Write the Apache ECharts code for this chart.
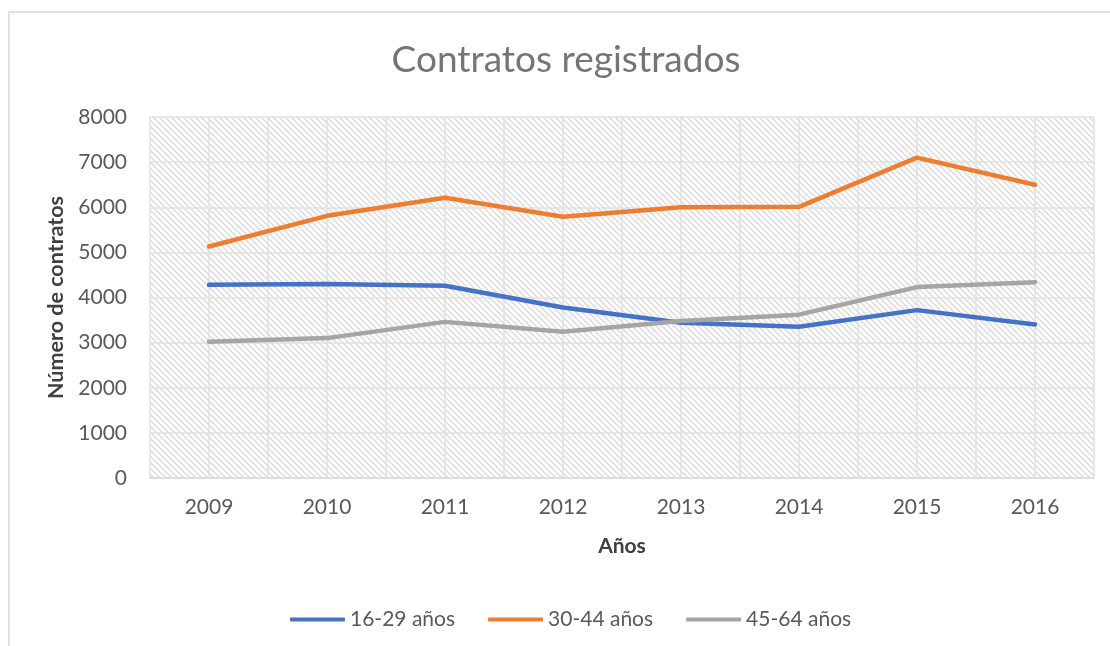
<!DOCTYPE html>
<html>
<head>
<meta charset="utf-8">
<script src="https://cdn.jsdelivr.net/npm/echarts@6/dist/echarts.min.js"></script>
<style>
html,body{margin:0;padding:0;background:#fff;}
#chart{width:1110px;height:646px;}
</style>
</head>
<body>
<div id="chart"></div>
<script>
const years = ['2009','2010','2011','2012','2013','2014','2015','2016'];
const s16_29 = [4280, 4300, 4260, 3780, 3440, 3350, 3720, 3400];
const s30_44 = [5130, 5810, 6210, 5790, 6000, 6010, 7100, 6500];
const s45_64 = [3020, 3100, 3460, 3240, 3480, 3620, 4230, 4340];
const seriesNames = ['16-29 años', '30-44 años', '45-64 años'];
const yTicks = [0, 1000, 2000, 3000, 4000, 5000, 6000, 7000, 8000];

// hatch pattern for plot background
const tile = document.createElement('canvas');
const S = 6;
tile.width = S; tile.height = S;
const tc = tile.getContext('2d');
tc.fillStyle = '#ffffff';
tc.fillRect(0, 0, S, S);
tc.strokeStyle = '#dadada';
tc.lineWidth = 1.4;
tc.beginPath();
tc.moveTo(-1, -1); tc.lineTo(S + 1, S + 1);
tc.moveTo(-1, S - 1); tc.lineTo(1, S + 1);
tc.moveTo(S - 1, -1); tc.lineTo(S + 1, 1);
tc.stroke();

const FONT = 'Lato';
const chart = echarts.init(document.getElementById('chart'), null, {renderer: 'canvas'});
const colors = ['#4472C4', '#ED7D31', '#A5A5A5'];
const data = [s16_29, s30_44, s45_64];

chart.setOption({
  animation: false,
  color: colors,
  graphic: [
    {type: 'rect', shape: {x: 9, y: 12, width: 1300, height: 800}, style: {fill: 'none', stroke: '#d9d9d9', lineWidth: 1.5}, silent: true},
    {type: 'text', x: 566, y: 60, style: {text: 'Contratos registrados', font: '400 37px Lato', fill: '#757575', textAlign: 'center', textVerticalAlign: 'middle'}}
  ],
  grid: {
    left: 150, right: 16, top: 117, bottom: 168,
    show: true,
    backgroundColor: {image: tile, repeat: 'repeat'},
    borderWidth: 0
  },
  legend: {
    data: seriesNames,
    left: 285, top: 604,
    itemWidth: 55, itemHeight: 4, itemGap: 33,
    icon: 'roundRect',
    textStyle: {fontFamily: FONT, fontSize: 21, color: '#595959'}
  },
  xAxis: [
    {
      type: 'category',
      data: years,
      boundaryGap: true,
      name: 'Años',
      nameLocation: 'middle',
      nameGap: 58,
      nameTextStyle: {fontFamily: FONT, fontSize: 21, fontWeight: 'bold', color: '#404040'},
      axisLine: {show: true, lineStyle: {color: '#d9d9d9', width: 1.5}},
      axisTick: {show: false},
      splitLine: {show: false},
      axisLabel: {fontFamily: FONT, fontSize: 21, color: '#595959', margin: 19}
    },
    {
      type: 'value',
      min: 0, max: 16, interval: 1,
      show: true,
      position: 'bottom',
      axisLine: {show: false},
      axisTick: {show: false},
      axisLabel: {show: false},
      splitLine: {show: true, lineStyle: {color: '#e0e0e0', width: 1.5}}
    }
  ],
  yAxis: {
    type: 'value',
    min: yTicks[0], max: yTicks[yTicks.length - 1], interval: 1000,
    name: 'Número de contratos',
    nameLocation: 'middle',
    nameGap: 82,
    nameTextStyle: {fontFamily: FONT, fontSize: 21.5, fontWeight: 'bold', color: '#404040'},
    axisLine: {show: false},
    axisTick: {show: false},
    axisLabel: {fontFamily: FONT, fontSize: 21, color: '#595959', margin: 23, formatter: v => String(v)},
    splitLine: {show: true, lineStyle: {color: '#e0e0e0', width: 1.5}}
  },
  series: seriesNames.map((n, i) => ({
    name: n,
    type: 'line',
    xAxisIndex: 0,
    data: data[i],
    symbol: 'none',
    lineStyle: {width: 4.5, color: colors[i], cap: 'round', join: 'round'},
    itemStyle: {color: colors[i]}
  }))
});
</script>
</body>
</html>
